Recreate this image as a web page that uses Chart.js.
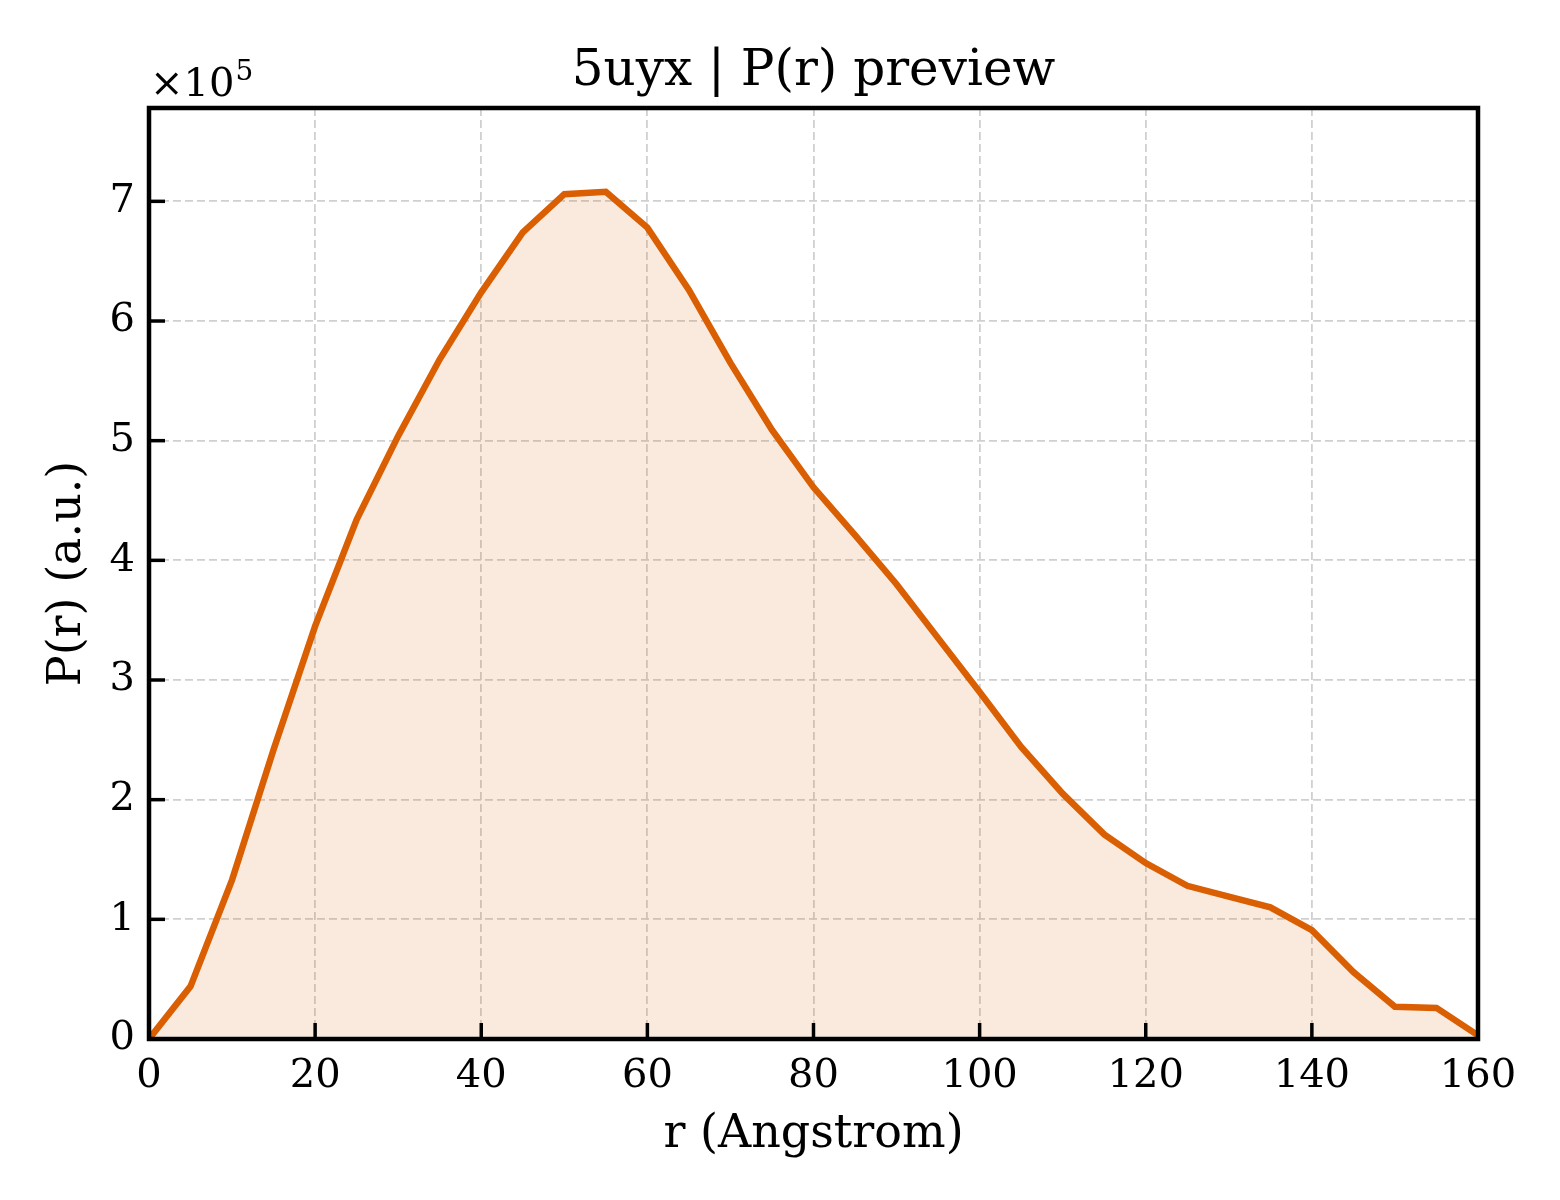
<!DOCTYPE html>
<html>
<head>
<meta charset="utf-8">
<script src="https://cdn.jsdelivr.net/npm/chart.js@4.4.1/dist/chart.umd.min.js"></script>
<style>
  html, body { margin: 0; padding: 0; background: #fff; }
  #wrap { width: 1560px; height: 1200px; }
</style>
</head>
<body>
<div id="wrap"><canvas id="prChart" width="1560" height="1200"></canvas></div>
<script>
// Datos
const rValues = [0, 5, 10, 15, 20, 25, 30, 35, 40, 45, 50, 55, 60, 65, 70, 75, 80,
  85, 90, 95, 100, 105, 110, 115, 120, 125, 130, 135, 140, 145, 150, 155, 160];
const prValues = [0, 44000, 133000, 242000, 345000, 434000, 504000, 568000, 624000,
  674000, 706000, 708000, 678000, 626000, 565000, 509000, 461000, 421000, 380000,
  335000, 290000, 244000, 205000, 171000, 147000, 128000, 119000, 110000, 91000,
  56000, 27000, 26000, 3000];
const xTicks = [0, 20, 40, 60, 80, 100, 120, 140, 160];
const yTicks = [0, 100000, 200000, 300000, 400000, 500000, 600000, 700000];
const yMax = 778000;

const serif = "'DejaVu Serif', serif";
const lineColor = '#d95f02';

// Marco, marcas hacia dentro y textos al estilo matplotlib
const framePlugin = {
  id: 'frame',
  afterDraw(chart) {
    const { ctx, chartArea: a, scales } = chart;
    ctx.save();
    ctx.strokeStyle = '#000';
    ctx.lineWidth = 3.5;
    xTicks.forEach(v => {
      const x = scales.x.getPixelForValue(v);
      ctx.beginPath(); ctx.moveTo(x, a.bottom); ctx.lineTo(x, a.bottom - 16); ctx.stroke();
    });
    yTicks.forEach(v => {
      const y = scales.y.getPixelForValue(v);
      ctx.beginPath(); ctx.moveTo(a.left, y); ctx.lineTo(a.left + 16, y); ctx.stroke();
    });
    ctx.lineWidth = 4.5;
    ctx.strokeRect(a.left, a.top, a.right - a.left, a.bottom - a.top);

    ctx.fillStyle = '#000';
    ctx.textBaseline = 'alphabetic';
    ctx.textAlign = 'center';
    ctx.font = '50px ' + serif;
    ctx.fillText('5uyx | P(r) preview', (a.left + a.right) / 2, 85);
    ctx.font = '46px ' + serif;
    ctx.fillText('r (Angstrom)', (a.left + a.right) / 2, 1147);

    ctx.save();
    ctx.translate(80, (a.top + a.bottom) / 2);
    ctx.rotate(-Math.PI / 2);
    ctx.fillText('P(r) (a.u.)', 0, 0);
    ctx.restore();

    ctx.textAlign = 'left';
    ctx.font = '40px ' + serif;
    ctx.fillText('\u00d710', 150, 96);
    const w = ctx.measureText('\u00d710').width;
    ctx.font = '28px ' + serif;
    ctx.fillText('5', 150 + w + 1, 80);
    ctx.restore();
  }
};

const ctx = document.getElementById('prChart').getContext('2d');
const chart = new Chart(ctx, {
  type: 'line',
  data: {
    datasets: [{
      data: rValues.map((r, i) => ({ x: r, y: prValues[i] })),
      borderColor: lineColor,
      backgroundColor: 'rgba(217, 95, 2, 0.13)',
      borderWidth: 6.5,
      borderJoinStyle: 'miter',
      pointRadius: 0,
      tension: 0,
      fill: 'origin'
    }]
  },
  options: {
    responsive: false,
    devicePixelRatio: 1,
    animation: false,
    layout: { padding: { top: 108, right: 82, left: 0, bottom: 0 } },
    plugins: {
      legend: { display: false },
      tooltip: { enabled: false }
    },
    scales: {
      x: {
        type: 'linear',
        min: 0,
        max: 160,
        afterBuildTicks: s => { s.ticks = xTicks.map(v => ({ value: v })); },
        afterFit: s => { s.height = 161; },
        grid: { color: '#d0d0d0', lineWidth: 1.8, drawTicks: false },
        border: { display: false, dash: [8, 4] },
        ticks: {
          padding: 14,
          maxRotation: 0,
          color: '#000',
          font: { family: serif, size: 40 },
          callback: v => String(v)
        }
      },
      y: {
        min: 0,
        max: yMax,
        afterBuildTicks: s => { s.ticks = yTicks.map(v => ({ value: v })); },
        afterFit: s => { s.width = 149; },
        grid: { color: '#d0d0d0', lineWidth: 1.8, drawTicks: false },
        border: { display: false, dash: [8, 4] },
        ticks: {
          padding: 14,
          color: '#000',
          font: { family: serif, size: 40 },
          callback: v => String(Math.round(v / 100000))
        }
      }
    }
  },
  plugins: [framePlugin]
});
</script>
</body>
</html>
